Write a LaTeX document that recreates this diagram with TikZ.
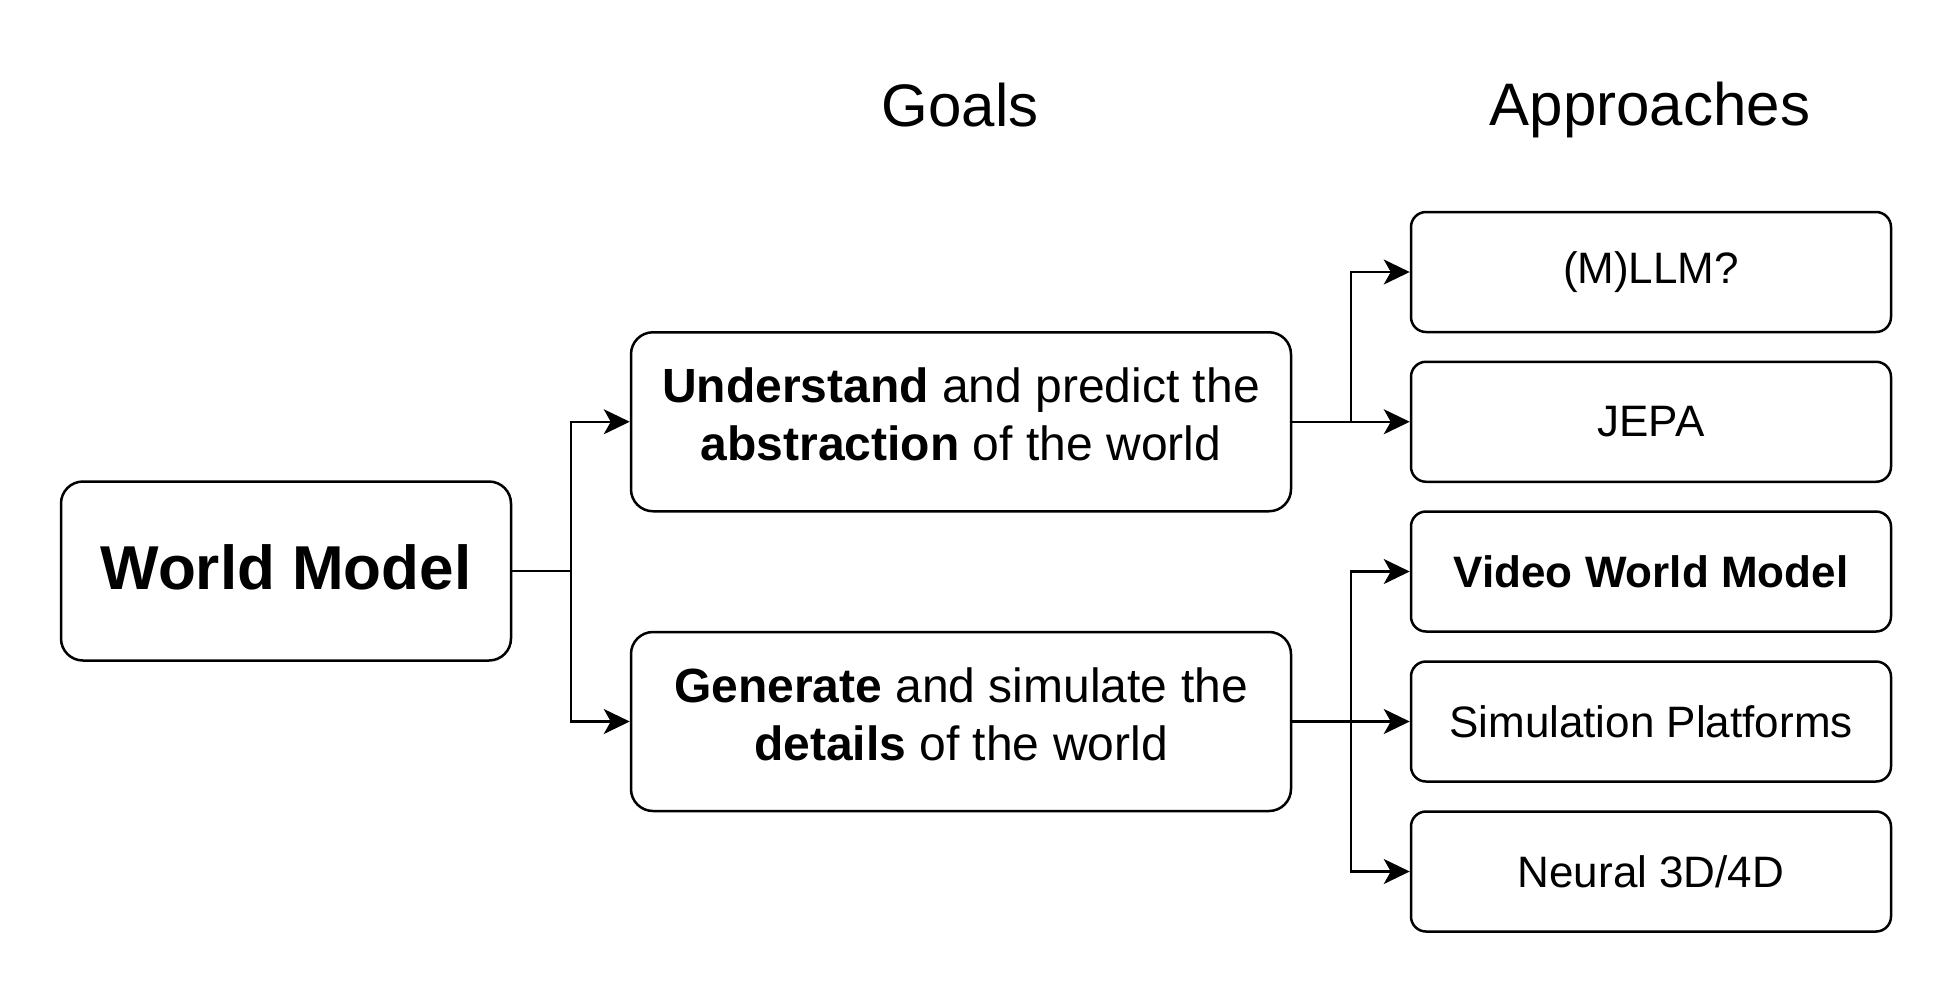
\documentclass[tikz,border=0pt]{standalone}
\usepackage{fontspec}
\setmainfont{Liberation Sans}
\usetikzlibrary{arrows.meta}
\begin{document}
\begin{tikzpicture}[x=0.5pt,y=-0.5pt,
  bigbox/.style={draw, line width=1.25pt, rounded corners=11pt, inner sep=0pt, align=center,
    minimum height=89.5pt},
  apbox/.style={draw, line width=1.25pt, rounded corners=7.5pt, inner sep=0pt, align=center,
    minimum width=240pt, minimum height=60pt, font=\fontsize{22}{26.4}\selectfont},
  goaltext/.style={font=\fontsize{24}{28.8}\selectfont, text depth=7.5pt},
  heading/.style={anchor=base, font=\fontsize{30}{36}\selectfont},
  conn/.style={line width=1.1pt},
  arr/.style={conn, -{Stealth[length=13pt, width=12.5pt, inset=3.5pt]}}
]
\useasboundingbox (0,0) rectangle (1956,993);

\node[heading] (goals) at (960,126) {Goals};
\node[heading] (appr) at (1650,125) {Approaches};

\node[bigbox, minimum width=225pt, text depth=4pt, font=\fontsize{31}{37}\selectfont\bfseries] (wm) at (286,571) {World Model};

\node[bigbox, minimum width=330pt, goaltext] (g1) at (961,421.75)
  {\textbf{Understand} and predict the\\\textbf{abstraction} of the world};
\node[bigbox, minimum width=330pt, goaltext] (g2) at (961,721.5)
  {\textbf{Generate} and simulate the\\\textbf{details} of the world};

\node[apbox] (a1) at (1651,272) {(M)LLM?};
\node[apbox] (a2) at (1651,421.75) {JEPA};
\node[apbox] (a3) at (1651,571.5) {\textbf{Video World Model}};
\node[apbox] (a4) at (1651,721.5) {Simulation Platforms};
\node[apbox] (a5) at (1651,871.5) {Neural 3D/4D};

\coordinate (j1) at (571,571);
\coordinate (j2) at (1351,421.75);
\coordinate (j3) at (1351,721.5);

\draw[conn] (wm.east) -- (j1);
\draw[arr] (j1) |- (g1.west);
\draw[arr] (j1) |- (g2.west);

\draw[arr] (g1.east) -- (a2.west);
\draw[arr] (j2) |- (a1.west);

\draw[arr] (g2.east) -- (a4.west);
\draw[arr] (j3) |- (a3.west);
\draw[arr] (j3) |- (a5.west);
\end{tikzpicture}
\end{document}
